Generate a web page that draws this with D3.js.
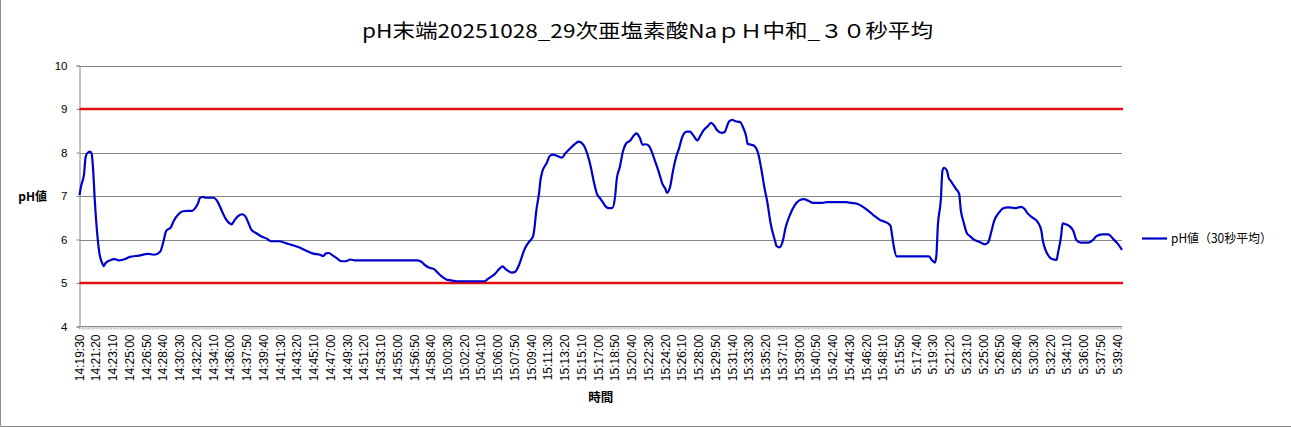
<!DOCTYPE html>
<html>
<head>
<meta charset="utf-8">
<script src="https://cdn.jsdelivr.net/npm/d3@7/dist/d3.min.js"></script>
<style>
  html, body { margin: 0; padding: 0; background: #fff; }
  svg { display: block; }
</style>
</head>
<body>
<svg id="chart" width="1291" height="427"></svg>
<script>
// ---------------- DATA ----------------
const chartTitle = "pH末端20251028_29次亜塩素酸NaｐＨ中和_３０秒平均";
const yAxisTitle = "pH値";
const xAxisTitle = "時間";
const seriesName = "pH値（30秒平均）";

// category index of each read point (one category every 10 s of record)
const sampleIdx = [0,1,3,4,5,7,8,9,10,12,13,15,16,17,20,23,26,30,33,39,45,49,53,55,57,60,62,65,68,71,74,76,78,79,81,83,88,90,92,94,96,99,100,102,104,107,109,111,113,116,119,123,126,131,136,140,145,149,153,158,160,162,164,166,169,172,175,178,181,222,225,227,230,233,235,238,241,244,248,266,269,273,276,278,280,284,286,288,290,292,295,298,299,300,302,303,304,307,309,311,314,317,319,322,325,328,331,334,336,338,340,342,344,346,348,350,352,353,355,357,359,362,364,366,368,370,372,374,376,378,381,383,385,386,388,390,392,394,396,399,401,403,406,408,410,413,415,417,419,422,424,425,427,429,431,434,436,438,439,441,443,446,448,450,452,454,457,458,460,462,464,467,470,473,476,479,482,488,491,504,507,510,513,516,519,522,526,529,532,533,534,535,537,558,560,562,563,564,566,567,568,570,571,573,576,578,579,581,583,585,588,591,595,597,599,601,604,607,610,613,615,617,619,621,623,626,630,632,633,635,637,639,642,643,645,646,648,650,653,655,658,663,666,668,672,676,679,682,685];
const phValues = [7.02,7.22,7.51,7.89,7.98,8.02,7.97,7.58,6.93,6.0,5.7,5.45,5.39,5.45,5.52,5.55,5.52,5.55,5.6,5.63,5.67,5.65,5.72,5.93,6.2,6.28,6.43,6.58,6.65,6.66,6.66,6.72,6.84,6.95,6.98,6.96,6.96,6.91,6.78,6.62,6.48,6.36,6.35,6.45,6.53,6.58,6.53,6.38,6.22,6.15,6.08,6.02,5.96,5.96,5.91,5.87,5.81,5.74,5.68,5.65,5.62,5.68,5.69,5.64,5.57,5.5,5.5,5.54,5.52,5.52,5.48,5.41,5.35,5.32,5.25,5.15,5.08,5.06,5.04,5.04,5.11,5.21,5.33,5.38,5.32,5.24,5.25,5.35,5.53,5.74,5.93,6.07,6.28,6.62,7.08,7.39,7.55,7.76,7.92,7.95,7.92,7.88,7.97,8.08,8.18,8.25,8.18,7.93,7.66,7.32,7.05,6.95,6.85,6.75,6.72,6.72,7.01,7.39,7.66,8.01,8.2,8.28,8.38,8.44,8.35,8.18,8.19,8.16,8.02,7.82,7.51,7.28,7.16,7.07,7.2,7.58,7.89,8.1,8.35,8.48,8.48,8.41,8.28,8.39,8.51,8.61,8.68,8.62,8.51,8.45,8.47,8.56,8.72,8.75,8.72,8.7,8.58,8.38,8.2,8.18,8.16,7.97,7.62,7.2,6.85,6.39,5.97,5.85,5.82,5.95,6.28,6.58,6.79,6.9,6.93,6.89,6.84,6.84,6.86,6.86,6.84,6.83,6.79,6.72,6.64,6.55,6.45,6.41,6.35,6.3,6.08,5.85,5.61,5.61,5.53,5.47,5.62,6.32,6.93,7.58,7.65,7.58,7.43,7.32,7.16,7.05,6.7,6.39,6.15,6.08,5.99,5.95,5.89,5.93,6.16,6.43,6.61,6.72,6.74,6.73,6.72,6.74,6.75,6.7,6.6,6.51,6.38,6.2,5.97,5.74,5.61,5.55,5.53,5.7,6.08,6.37,6.35,6.32,6.2,5.99,5.93,5.93,5.99,6.07,6.12,6.12,6.02,5.91,5.76];

const categoryCount = 686;     // number of time categories
const tickLabelEvery = 11;     // every 11th category carries a label
const tickLabels = ["14:19:30","14:21:20","14:23:10","14:25:00","14:26:50","14:28:40","14:30:30","14:32:20","14:34:10","14:36:00","14:37:50","14:39:40","14:41:30","14:43:20","14:45:10","14:47:00","14:49:30","14:51:20","14:53:10","14:55:00","14:56:50","14:58:40","15:00:30","15:02:20","15:04:10","15:06:00","15:07:50","15:09:40","15:11:30","15:13:20","15:15:10","15:17:00","15:18:50","15:20:40","15:22:30","15:24:20","15:26:10","15:28:00","15:29:50","15:31:40","15:33:30","15:35:20","15:37:10","15:39:00","15:40:50","15:42:40","15:44:30","15:46:20","15:48:10","5:15:50","5:17:40","5:19:30","5:21:20","5:23:10","5:25:00","5:26:50","5:28:40","5:30:30","5:32:20","5:34:10","5:36:00","5:37:50","5:39:40"];

const yTicks = [4,5,6,7,8,9,10];
const limitValues = [9, 5];

// ---------------- LAYOUT ----------------
const W = 1291, H = 427;
const plot = { left: 79.5, right: 1122, top: 65.5, bottom: 326.5 };
const svg = d3.select("#chart");
const latin = "'Liberation Sans', Arial, sans-serif";
const cjk = "'Noto Sans CJK JP', 'Noto Sans', sans-serif";

const x = d3.scaleLinear().domain([0, categoryCount - 1]).range([plot.left, plot.right]);
const y = d3.scaleLinear().domain([4, 10]).range([plot.bottom, plot.top]);

// outer frame (left and bottom visible)
svg.append("path")
  .attr("d", `M0.5,0 V${H - 0.5} H${W}`)
  .attr("fill", "none").attr("stroke", "#8c8c8c").attr("stroke-width", 1);

// gridlines
svg.append("g")
  .selectAll("line").data(yTicks.filter(v => v !== 4))
  .join("line")
  .attr("x1", plot.left).attr("x2", plot.right)
  .attr("y1", d => Math.round(y(d)) + 0.5).attr("y2", d => Math.round(y(d)) + 0.5)
  .attr("stroke", "#868686").attr("stroke-width", 1);

// y axis
const yAxis = d3.axisLeft(y).tickValues(yTicks).tickSize(3).tickPadding(9).tickFormat(d3.format("d"));
const gy = svg.append("g").attr("transform", `translate(${plot.left},0)`).call(yAxis);
gy.select(".domain").attr("stroke", "#868686");
gy.selectAll(".tick line").attr("stroke", "#868686");
gy.selectAll("text").attr("font-family", latin).attr("font-size", "11.5px").attr("fill", "#000");

// x axis: minor ticks at every category
const gx = svg.append("g").attr("transform", `translate(0,${plot.bottom})`);
gx.append("line").attr("x1", plot.left).attr("x2", plot.right).attr("y1", 0).attr("y2", 0)
  .attr("stroke", "#868686");
gx.selectAll("line.cat").data(d3.range(categoryCount))
  .join("line").attr("class", "cat")
  .attr("x1", d => x(d)).attr("x2", d => x(d)).attr("y1", 0).attr("y2", 3)
  .attr("stroke", "#9a9a9a").attr("stroke-width", 0.6);
gx.selectAll("text.lab").data(tickLabels)
  .join("text").attr("class", "lab")
  .attr("transform", (d, i) => `translate(${x(i * tickLabelEvery)},8) rotate(-90)`)
  .attr("text-anchor", "end").attr("dy", "0.35em")
  .attr("font-family", latin).attr("font-size", "12px").attr("fill", "#000")
  .text(d => d);

// limit lines
svg.append("g").selectAll("line").data(limitValues)
  .join("line")
  .attr("x1", plot.left).attr("x2", plot.right + 1)
  .attr("y1", d => y(d)).attr("y2", d => y(d))
  .attr("stroke", "#dd1111").attr("stroke-width", 2.6);

// series
const pts = sampleIdx.map((d, i) => [d, phValues[i]]);
const line = d3.line().x(d => x(d[0])).y(d => y(d[1])).curve(d3.curveMonotoneX);
svg.append("path").datum(pts)
  .attr("d", line)
  .attr("fill", "none").attr("stroke", "#0000cc").attr("stroke-width", 2.2)
  .attr("stroke-linejoin", "round");

// title
svg.append("text")
  .attr("x", 647.5).attr("y", 38).attr("text-anchor", "middle")
  .attr("font-family", cjk).attr("font-size", "19px").attr("fill", "#000")
  .attr("textLength", 571).attr("lengthAdjust", "spacingAndGlyphs")
  .text(chartTitle);

// axis titles
svg.append("text")
  .attr("x", 47).attr("y", 197).attr("text-anchor", "end").attr("dy", "0.35em")
  .attr("font-family", cjk).attr("font-weight", "bold").attr("font-size", "12px")
  .text(yAxisTitle);
svg.append("text")
  .attr("x", (plot.left + plot.right) / 2).attr("y", 398).attr("text-anchor", "middle").attr("dy", "0.35em")
  .attr("font-family", cjk).attr("font-weight", "bold").attr("font-size", "12.5px")
  .text(xAxisTitle);

// legend
const lg = svg.append("g").attr("transform", "translate(1142,238.5)");
lg.append("line").attr("x1", 0).attr("x2", 25).attr("y1", 0).attr("y2", 0)
  .attr("stroke", "#0000cc").attr("stroke-width", 2.2);
lg.append("text").attr("x", 29).attr("y", 0).attr("dy", "0.35em")
  .attr("font-family", cjk).attr("font-size", "12.5px").attr("fill", "#000")
  .attr("textLength", 101).attr("lengthAdjust", "spacingAndGlyphs")
  .text(seriesName);
</script>
</body>
</html>
